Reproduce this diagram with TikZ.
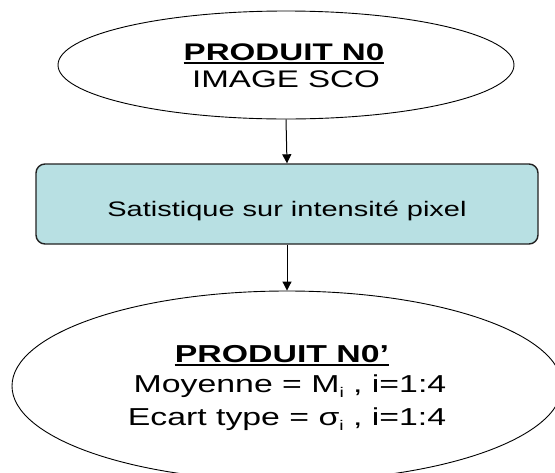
\documentclass[tikz,border=0pt]{standalone}
\usepackage{fontspec}
\usetikzlibrary{arrows.meta,shapes.geometric}
\newfontfamily\wsans[FakeStretch=1.38]{Liberation Sans}
\definecolor{boxfill}{RGB}{184,224,227}
\definecolor{boxline}{RGB}{34,34,34}
\newcommand{\lowsub}[1]{\raisebox{-5pt}{\fontsize{14}{14}\selectfont #1}}
\begin{document}
\begin{tikzpicture}[x=1pt,y=-1pt,
  shapeline/.style={draw=black,line width=0.9pt},
  oval/.style={shapeline,ellipse,inner sep=0pt},
  stepbox/.style={draw=boxline,line width=1.4pt,fill=boxfill,rounded corners=9pt,
    rectangle,inner sep=0pt,minimum width=502pt,minimum height=80pt},
  txt/.style={inner sep=0pt,anchor=base,font=\wsans\fontsize{24}{24}\selectfont},
  link/.style={line width=1pt,-{Triangle[length=9pt,width=9pt]}}]
\clip (0,0) rectangle (555,472);
\fill[white] (0,0) rectangle (555,472);

% top product
\node[oval,minimum width=456pt,minimum height=108pt] (top) at (286,65) {};
\node[txt,font=\wsans\bfseries\fontsize{24}{24}\selectfont] (t1) at (284,60) {PRODUIT N0};
\draw[line width=1.8pt] ([yshift=-3pt]t1.base west) -- ([yshift=-3pt]t1.base east);
\node[txt] (t2) at (286,87) {IMAGE SCO};

% processing step
\node[stepbox] (stat) at (287,204) {};
\node[txt,font=\wsans\fontsize{21}{21}\selectfont] (s1) at (287,216) {Satistique sur intensité pixel};

% resulting product
\node[oval,minimum width=550pt,minimum height=190pt] (bot) at (287,386) {};
\node[txt,font=\wsans\bfseries\fontsize{24.5}{24.5}\selectfont] (b1) at (282,362) {PRODUIT N0’};
\draw[line width=1.8pt] ([yshift=-3pt]b1.base west) -- ([yshift=-3pt]b1.base east);
\node[txt,font=\wsans\fontsize{24.5}{24.5}\selectfont] (b2) at (290,392) {Moyenne = M\lowsub{i} , i=1:4};
\node[txt,font=\wsans\fontsize{24.5}{24.5}\selectfont] (b3) at (287,425) {Ecart type = σ\lowsub{i} , i=1:4};

% connectors
\draw[link] (top.south) -- (stat.north);
\draw[link] (stat.south) -- (bot.north);
\end{tikzpicture}
\end{document}
